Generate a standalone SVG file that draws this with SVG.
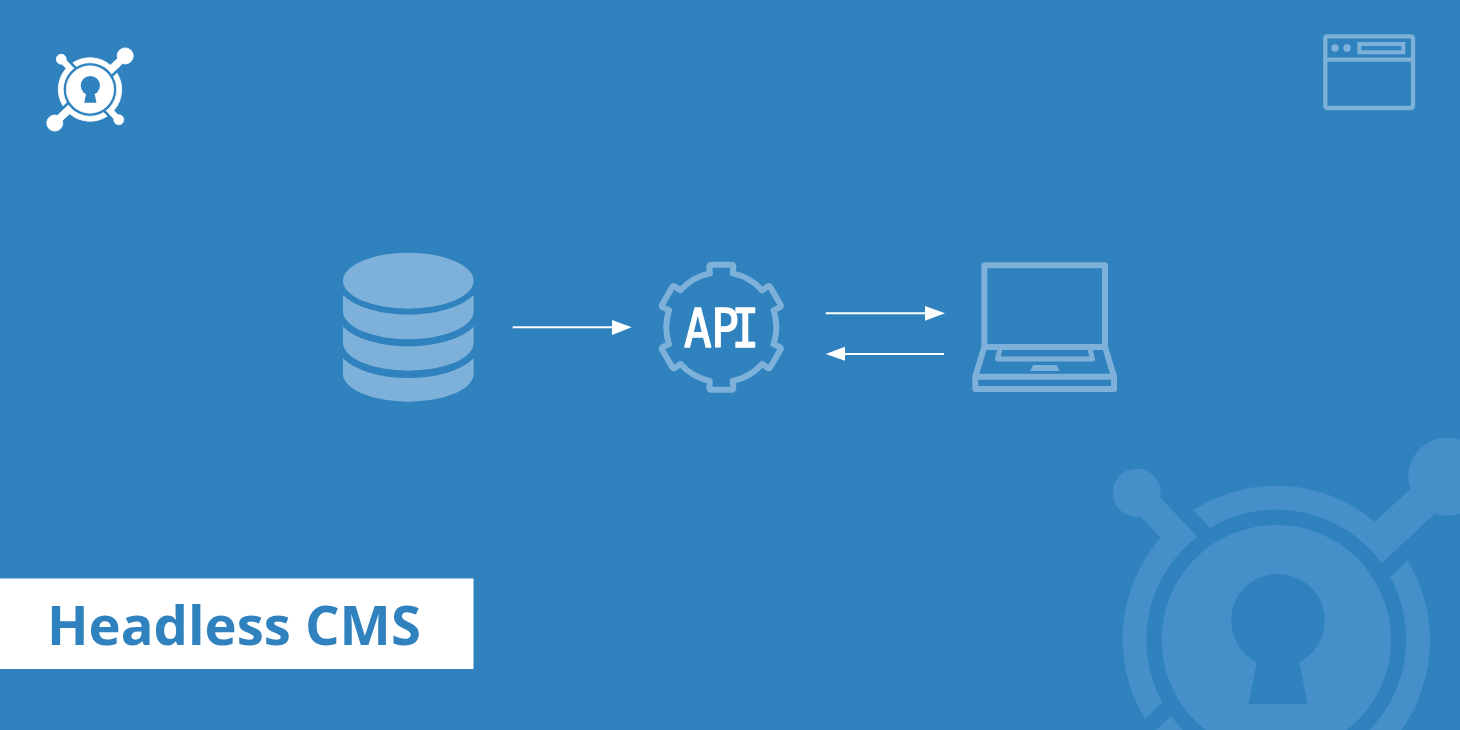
<svg xmlns="http://www.w3.org/2000/svg" width="1460" height="730" viewBox="0 0 1460 730">
<style>
.bg{fill:#3082bf;stroke:none}
.ln{fill:none;stroke:#7db1d9;stroke-linejoin:round;stroke-linecap:round}
.fl{fill:#7db1d9}
.arrow{stroke:#fff;stroke-width:2;fill:none}
.head{fill:#fff}
</style>
<defs>
<g id="half">
<circle cx="-139.6" cy="-147" r="24"/>
<circle cx="171" cy="-163" r="39"/>
<path d="M-115.3-141.4L-79-103L-100-95L-115.6-102L-135.6-123Z"/>
<path d="M133.7-150.4L98.7-118L85-110L105.4-76.4L158-125.7Z"/>
<path d="M-115.6-102A154 154 0 0 0-131.3 79.3L-114 62.6A130 130 0 0 1-79-103Z"/>
<path d="M-83-129.7A154 154 0 0 1 98.7-118L105.4-76.4A130 130 0 0 0-66.3-112Z"/>
</g>
<g id="mark">
<use href="#half"/>
<use href="#half" transform="rotate(180)"/>
<circle r="114.7"/>
<circle class="bg" cx="1.7" cy="-19" r="46.8"/>
<path class="bg" d="M-19.6 22.6H23L31.4 64.6H-28Z"/>
</g>
<path id="tooth" d="M-11.5-53.8L-12-60.5Q-12-62.5-10-62.5H10Q12-62.5 12-60.5L11.5-53.8A55 55 0 0 1 40.8-36.9"/>
</defs>
<rect class="bg" width="1460" height="730"/>
<g id="watermark" fill="#4590c9"><use href="#mark" transform="translate(1276.3 639.7)"/></g>
<g id="logo" fill="#fff" stroke="#fff" stroke-width="4"><use href="#mark" transform="translate(90 89.5) scale(.206)"/></g>
<g id="browser">
<rect class="ln" x="1325.3" y="36.3" width="87.7" height="71.7" rx="2" stroke-width="4.3"/>
<path class="ln" d="M1325.3 59.7H1413" stroke-width="4.3"/>
<circle class="fl" cx="1335" cy="48" r="3.7"/>
<circle class="fl" cx="1347" cy="48" r="3.7"/>
<rect class="ln" x="1359.3" y="44" width="44" height="8.3" stroke-width="4" style="stroke-linejoin:miter"/>
</g>
<g id="database" class="fl">
<ellipse cx="408.3" cy="280.7" rx="65.3" ry="28"/>
<path d="M343 295A72 34 0 0 0 473.7 295V311.3A65.3 28 0 0 1 343 311.3Z"/>
<path d="M343 326.7A72 34 0 0 0 473.7 326.7V342.7A65.3 28 0 0 1 343 342.7Z"/>
<path d="M343 358.3A72 34 0 0 0 473.7 358.3V373.7A65.3 28 0 0 1 343 373.7Z"/>
</g>
<g id="api">
<g class="ln" stroke-width="6" transform="translate(721.3 327.2)">
<use href="#tooth"/>
<use href="#tooth" transform="rotate(60)"/>
<use href="#tooth" transform="rotate(120)"/>
<use href="#tooth" transform="rotate(180)"/>
<use href="#tooth" transform="rotate(240)"/>
<use href="#tooth" transform="rotate(300)"/>
</g>
<text transform="translate(684 347) scale(.85 1)" x="0 32 56" y="0" font-family="'DejaVu Sans Mono',monospace" font-size="54" fill="#fff" stroke="#fff" stroke-width="1.5" stroke-linejoin="round">API</text>
</g>
<g id="laptop">
<path class="ln" stroke-width="6" d="M984.3 347V265.3H1105V347H984.3L975.3 376.7V389H1114V376.7L1105 347M975.3 376.7H1114"/>
<path class="ln" stroke-width="5" d="M1000 349L997.5 359H1092.5L1090 349"/>
<path class="fl" d="M1033.3 365H1056.7L1059.3 371H1030Z"/>
</g>
<g id="connectors">
<path class="arrow" d="M512.7 327.3H614"/>
<path class="head" d="M612 320L631.7 327.3L612 335Z"/>
<path class="arrow" d="M825.7 313.3H927"/>
<path class="head" d="M925 306L945 313.3L925 320.7Z"/>
<path class="arrow" d="M944 354H843"/>
<path class="head" d="M845 346.7L825.7 354L845 360.7Z"/>
</g>
<g id="banner">
<rect fill="#fff" x="0" y="578.5" width="473.5" height="90.5"/>
<text x="47" y="645" font-family="'Open Sans','Noto Sans',sans-serif" font-weight="700" font-size="54.4" fill="#3082bf">Headless CMS</text>
</g>
</svg>
